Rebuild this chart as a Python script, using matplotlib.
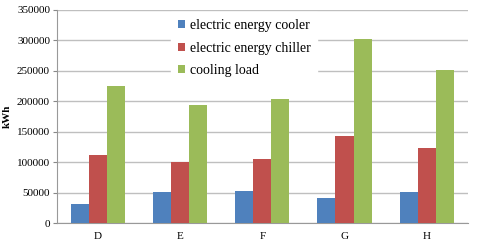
import matplotlib
matplotlib.use("Agg")
import matplotlib.pyplot as plt
import numpy as np

categories = ["D", "E", "F", "G", "H"]
cooler = [31000, 52000, 53000, 42000, 51000]
chiller = [112000, 100000, 105000, 143000, 124000]
cooling_load = [224000, 194000, 203000, 302000, 251000]
series_names = ["electric energy cooler", "electric energy chiller", "cooling load"]
colors = ["#4f81bd", "#c0504d", "#9bbb59"]

plt.rcParams['font.family'] = ['Liberation Serif', 'DejaVu Serif']

fig = plt.figure(figsize=(4.8, 2.48), dpi=100)
ax = fig.add_axes([57/480, 1-223.3/248, (467.7-57)/480, (223.3-9.5)/248])

x = np.arange(len(categories))
w = 0.22
for i, (vals, name, c) in enumerate(zip([cooler, chiller, cooling_load], series_names, colors)):
    ax.bar(x + (i-1)*w, vals, width=w, color=c, label=name, zorder=3)

ax.set_xlim(-0.5, len(categories)-0.5)
ax.set_ylim(0, 350000)
ax.set_yticks(np.arange(0, 350001, 50000))
ax.set_yticklabels([str(v) for v in range(0, 350001, 50000)], fontsize=8)
ax.set_xticks(x)
ax.set_xticklabels(categories, fontsize=8)
ax.tick_params(axis='x', length=0, pad=6)
ax.tick_params(axis='y', length=3, color='#888888', pad=2)
ax.grid(axis='y', color='#bfbfbf', linewidth=1, zorder=0)
for s in ['top', 'right']:
    ax.spines[s].set_visible(False)
for s in ['left', 'bottom']:
    ax.spines[s].set_color('#999999')
ax.set_ylabel("kWh", fontsize=8, fontweight='bold', labelpad=4)

leg = ax.legend(loc='upper left', bbox_to_anchor=(0.277, 0.987), frameon=True,
                prop={'family': 'Liberation Serif', 'size': 10},
                handlelength=0.55, handleheight=0.55, handletextpad=0.3, labelspacing=0.68,
                borderpad=0.5, borderaxespad=0.0, fancybox=False)
leg.get_frame().set_edgecolor('white')
leg.get_frame().set_facecolor('white')
leg.get_frame().set_alpha(1)
leg.set_zorder(5)

fig.savefig("out.png", dpi=100)
